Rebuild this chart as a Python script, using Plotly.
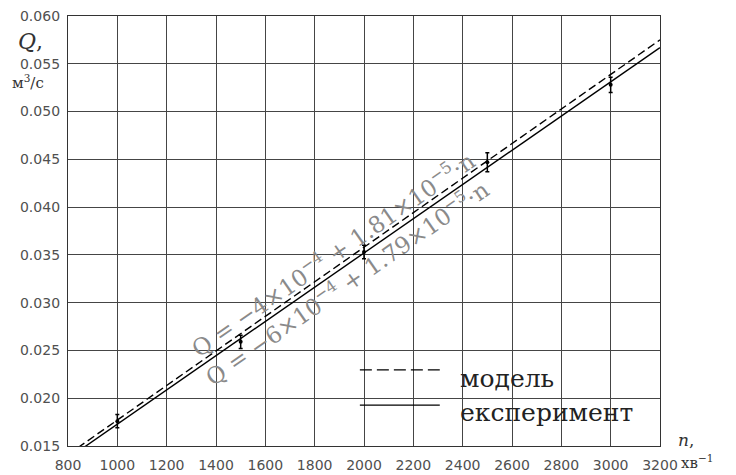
import plotly.graph_objects as go

# Experimental points (rotational speed n, flow Q) with error bars
n_pts = [1000, 1500, 2000, 2500, 3000]
q_pts = [0.0176, 0.0259, 0.0353, 0.0447, 0.0528]
q_err = [0.0007, 0.0007, 0.0007, 0.0010, 0.0008]

# Regression lines read at the axis ends
line_n = [800, 3200]
q_model = [0.0141, 0.0575]
q_exp = [0.0137, 0.0567]

x_ticks = [800, 1000, 1200, 1400, 1600, 1800, 2000, 2200, 2400, 2600, 2800, 3000, 3200]
y_ticks = [0.015, 0.020, 0.025, 0.030, 0.035, 0.040, 0.045, 0.050, 0.055, 0.060]
y_tick_text = ["0.015", "0.020", "0.025", "0.030", "0.035", "0.040", "0.045", "0.050", "0.055", "0.060"]

fig = go.Figure()
fig.add_trace(go.Scatter(x=line_n, y=q_model, mode="lines",
                         line=dict(color="black", width=1.4, dash="8px,4px"),
                         showlegend=False))
fig.add_trace(go.Scatter(x=line_n, y=q_exp, mode="lines",
                         line=dict(color="black", width=1.4),
                         showlegend=False))
fig.add_trace(go.Scatter(x=n_pts, y=q_pts, mode="markers",
                         marker=dict(color="black", size=4),
                         error_y=dict(type="data", array=q_err, color="black",
                                      thickness=1.5, width=2),
                         showlegend=False))

serif = "DejaVu Serif"
grid = "#454545"
# page body has an 8px margin, so the figure is shifted by 8px; compensate
fig.update_layout(
    width=728, height=467,
    margin=dict(l=60, r=76, t=8, b=29, autoexpand=False),
    paper_bgcolor="white", plot_bgcolor="white",
    xaxis=dict(range=[800, 3200], tickvals=x_ticks, showgrid=True, automargin=False,
               gridcolor=grid, gridwidth=1.3, zeroline=False,
               showline=True, linecolor="#333", linewidth=1.3, mirror=True,
               ticks="", ticklabelstandoff=6, ticklabeloverflow="allow",
               tickfont=dict(family="DejaVu Sans", size=14, color="#505050")),
    yaxis=dict(range=[0.015, 0.060], tickvals=y_ticks, ticktext=y_tick_text, automargin=False,
               showgrid=True, gridcolor=grid, gridwidth=1.3, zeroline=False,
               showline=True, linecolor="#333", linewidth=1.3, mirror=True,
               ticks="", ticklabelstandoff=4, ticklabeloverflow="allow",
               tickfont=dict(family="DejaVu Sans", size=14, color="#505050")),
)

# Legend drawn manually
fig.add_shape(type="line", xref="paper", yref="paper", x0=0.493, x1=0.628,
              y0=0.177, y1=0.177, line=dict(color="black", width=1.4, dash="12px,5px"))
fig.add_shape(type="line", xref="paper", yref="paper", x0=0.493, x1=0.628,
              y0=0.095, y1=0.095, line=dict(color="black", width=1.4))
fig.add_annotation(xref="paper", yref="paper", x=0.659, y=0.158, text="модель",
                   showarrow=False, xanchor="left", yanchor="middle",
                   font=dict(family=serif, size=25, color="#222"))
fig.add_annotation(xref="paper", yref="paper", x=0.659, y=0.077, text="експеримент",
                   showarrow=False, xanchor="left", yanchor="middle",
                   font=dict(family=serif, size=25, color="#222"))

# Equations along the lines
fig.add_annotation(x=1874, y=0.0352, text="Q = −4×10<sup>−4</sup> + 1.81×10<sup>−5</sup>·n",
                   showarrow=False, textangle=-34.8,
                   font=dict(family=serif, size=23, color="#8a8a8a"))
fig.add_annotation(x=1930, y=0.0322, text="Q = −6×10<sup>−4</sup> + 1.79×10<sup>−5</sup>·n",
                   showarrow=False, textangle=-34.8,
                   font=dict(family=serif, size=23, color="#8a8a8a"))

# Axis titles
fig.add_annotation(xref="paper", yref="paper", x=-0.064, y=0.940, text="<i>Q</i>,",
                   xanchor="center", yanchor="middle",
                   showarrow=False, font=dict(family=serif, size=22, color="#333"))
fig.add_annotation(xref="paper", yref="paper", x=-0.068, y=0.846, text="м<sup>3</sup>/с",
                   xanchor="center", yanchor="middle",
                   showarrow=False, font=dict(family=serif, size=15, color="#333"))
fig.add_annotation(xref="paper", yref="paper", x=1.044, y=0.014, text="<i>n</i>,",
                   xanchor="center", yanchor="middle",
                   showarrow=False, font=dict(family=serif, size=17, color="#333"))
fig.add_annotation(xref="paper", yref="paper", x=1.062, y=-0.037, text="хв<sup>−1</sup>",
                   xanchor="center", yanchor="middle",
                   showarrow=False, font=dict(family=serif, size=15, color="#333"))

fig.write_html("out.html")
